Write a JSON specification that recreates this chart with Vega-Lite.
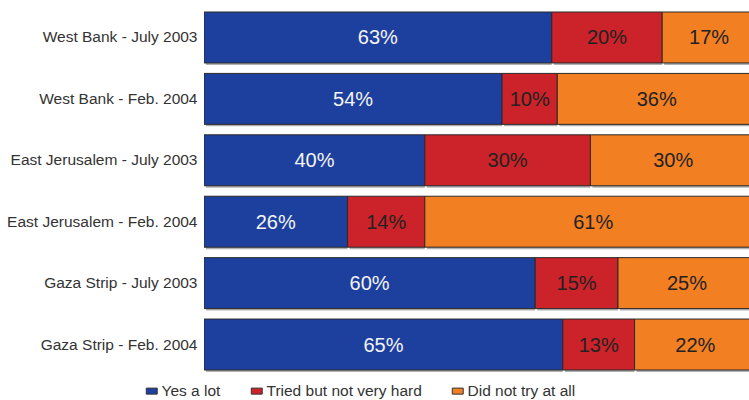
{
  "$schema": "https://vega.github.io/schema/vega-lite/v6.json",
  "autosize": "none",
  "width": 545,
  "height": 372,
  "padding": {"left": 204, "top": 5, "right": 0, "bottom": 23},
  "background": "white",
  "config": {"font": "Liberation Sans", "view": {"stroke": null}},
  "data": {"values": [
    {"row": "West Bank - July 2003", "answer": "Yes a lot", "k": 1, "pct": 63},
    {"row": "West Bank - July 2003", "answer": "Tried but not very hard", "k": 2, "pct": 20},
    {"row": "West Bank - July 2003", "answer": "Did not try at all", "k": 3, "pct": 17},
    {"row": "West Bank - Feb. 2004", "answer": "Yes a lot", "k": 1, "pct": 54},
    {"row": "West Bank - Feb. 2004", "answer": "Tried but not very hard", "k": 2, "pct": 10},
    {"row": "West Bank - Feb. 2004", "answer": "Did not try at all", "k": 3, "pct": 36},
    {"row": "East Jerusalem - July 2003", "answer": "Yes a lot", "k": 1, "pct": 40},
    {"row": "East Jerusalem - July 2003", "answer": "Tried but not very hard", "k": 2, "pct": 30},
    {"row": "East Jerusalem - July 2003", "answer": "Did not try at all", "k": 3, "pct": 30},
    {"row": "East Jerusalem - Feb. 2004", "answer": "Yes a lot", "k": 1, "pct": 26},
    {"row": "East Jerusalem - Feb. 2004", "answer": "Tried but not very hard", "k": 2, "pct": 14},
    {"row": "East Jerusalem - Feb. 2004", "answer": "Did not try at all", "k": 3, "pct": 61},
    {"row": "Gaza Strip - July 2003", "answer": "Yes a lot", "k": 1, "pct": 60},
    {"row": "Gaza Strip - July 2003", "answer": "Tried but not very hard", "k": 2, "pct": 15},
    {"row": "Gaza Strip - July 2003", "answer": "Did not try at all", "k": 3, "pct": 25},
    {"row": "Gaza Strip - Feb. 2004", "answer": "Yes a lot", "k": 1, "pct": 65},
    {"row": "Gaza Strip - Feb. 2004", "answer": "Tried but not very hard", "k": 2, "pct": 13},
    {"row": "Gaza Strip - Feb. 2004", "answer": "Did not try at all", "k": 3, "pct": 22}
  ]},
  "transform": [
    {"stack": "pct", "groupby": ["row"], "sort": [{"field": "k", "order": "ascending"}], "as": ["x0", "x1"]},
    {"calculate": "(datum.x0 + datum.x1) / 2", "as": "mid"},
    {"calculate": "datum.pct + '%'", "as": "label"}
  ],
  "encoding": {
    "y": {
      "field": "row", "type": "nominal", "sort": null,
      "scale": {"paddingInner": 0.17, "paddingOuter": 0.114},
      "axis": {"title": null, "ticks": false, "domain": false, "labelFontSize": 15.5, "labelColor": "#333", "labelPadding": 7, "labelLimit": 300}
    }
  },
  "layer": [
    {
      "mark": {"type": "bar", "fill": "#b0b0b0", "xOffset": 2, "yOffset": 2, "clip": true},
      "encoding": {
        "x": {"field": "x0", "type": "quantitative", "scale": {"domain": [0, 98.73], "nice": false}, "axis": null},
        "x2": {"field": "x1"}
      }
    },
    {
      "mark": {"type": "bar", "stroke": "#2a2a2a", "strokeWidth": 1, "clip": true},
      "encoding": {
        "x": {"field": "x0", "type": "quantitative"},
        "x2": {"field": "x1"},
        "color": {
          "field": "answer", "type": "nominal",
          "scale": {"domain": ["Yes a lot", "Tried but not very hard", "Did not try at all"], "range": ["#1d3f9e", "#cc2229", "#f27f22"]},
          "legend": {
            "title": null, "orient": "none", "direction": "horizontal",
            "legendX": -60, "legendY": 378,
            "symbolType": "M-1,-0.55H1V0.55H-1Z", "symbolSize": 120,
            "symbolStrokeColor": "#333", "symbolStrokeWidth": 1,
            "labelFontSize": 15.5, "labelColor": "#333", "labelOffset": 2,
            "columnPadding": 28
          }
        }
      }
    },
    {
      "mark": {"type": "text", "fontSize": 20, "align": "center", "baseline": "middle", "dy": 1},
      "encoding": {
        "x": {"field": "mid", "type": "quantitative"},
        "text": {"field": "label", "type": "nominal"},
        "color": {"condition": {"test": "datum.k == 1", "value": "#f4f4f4"}, "value": "#222"}
      }
    }
  ]
}
